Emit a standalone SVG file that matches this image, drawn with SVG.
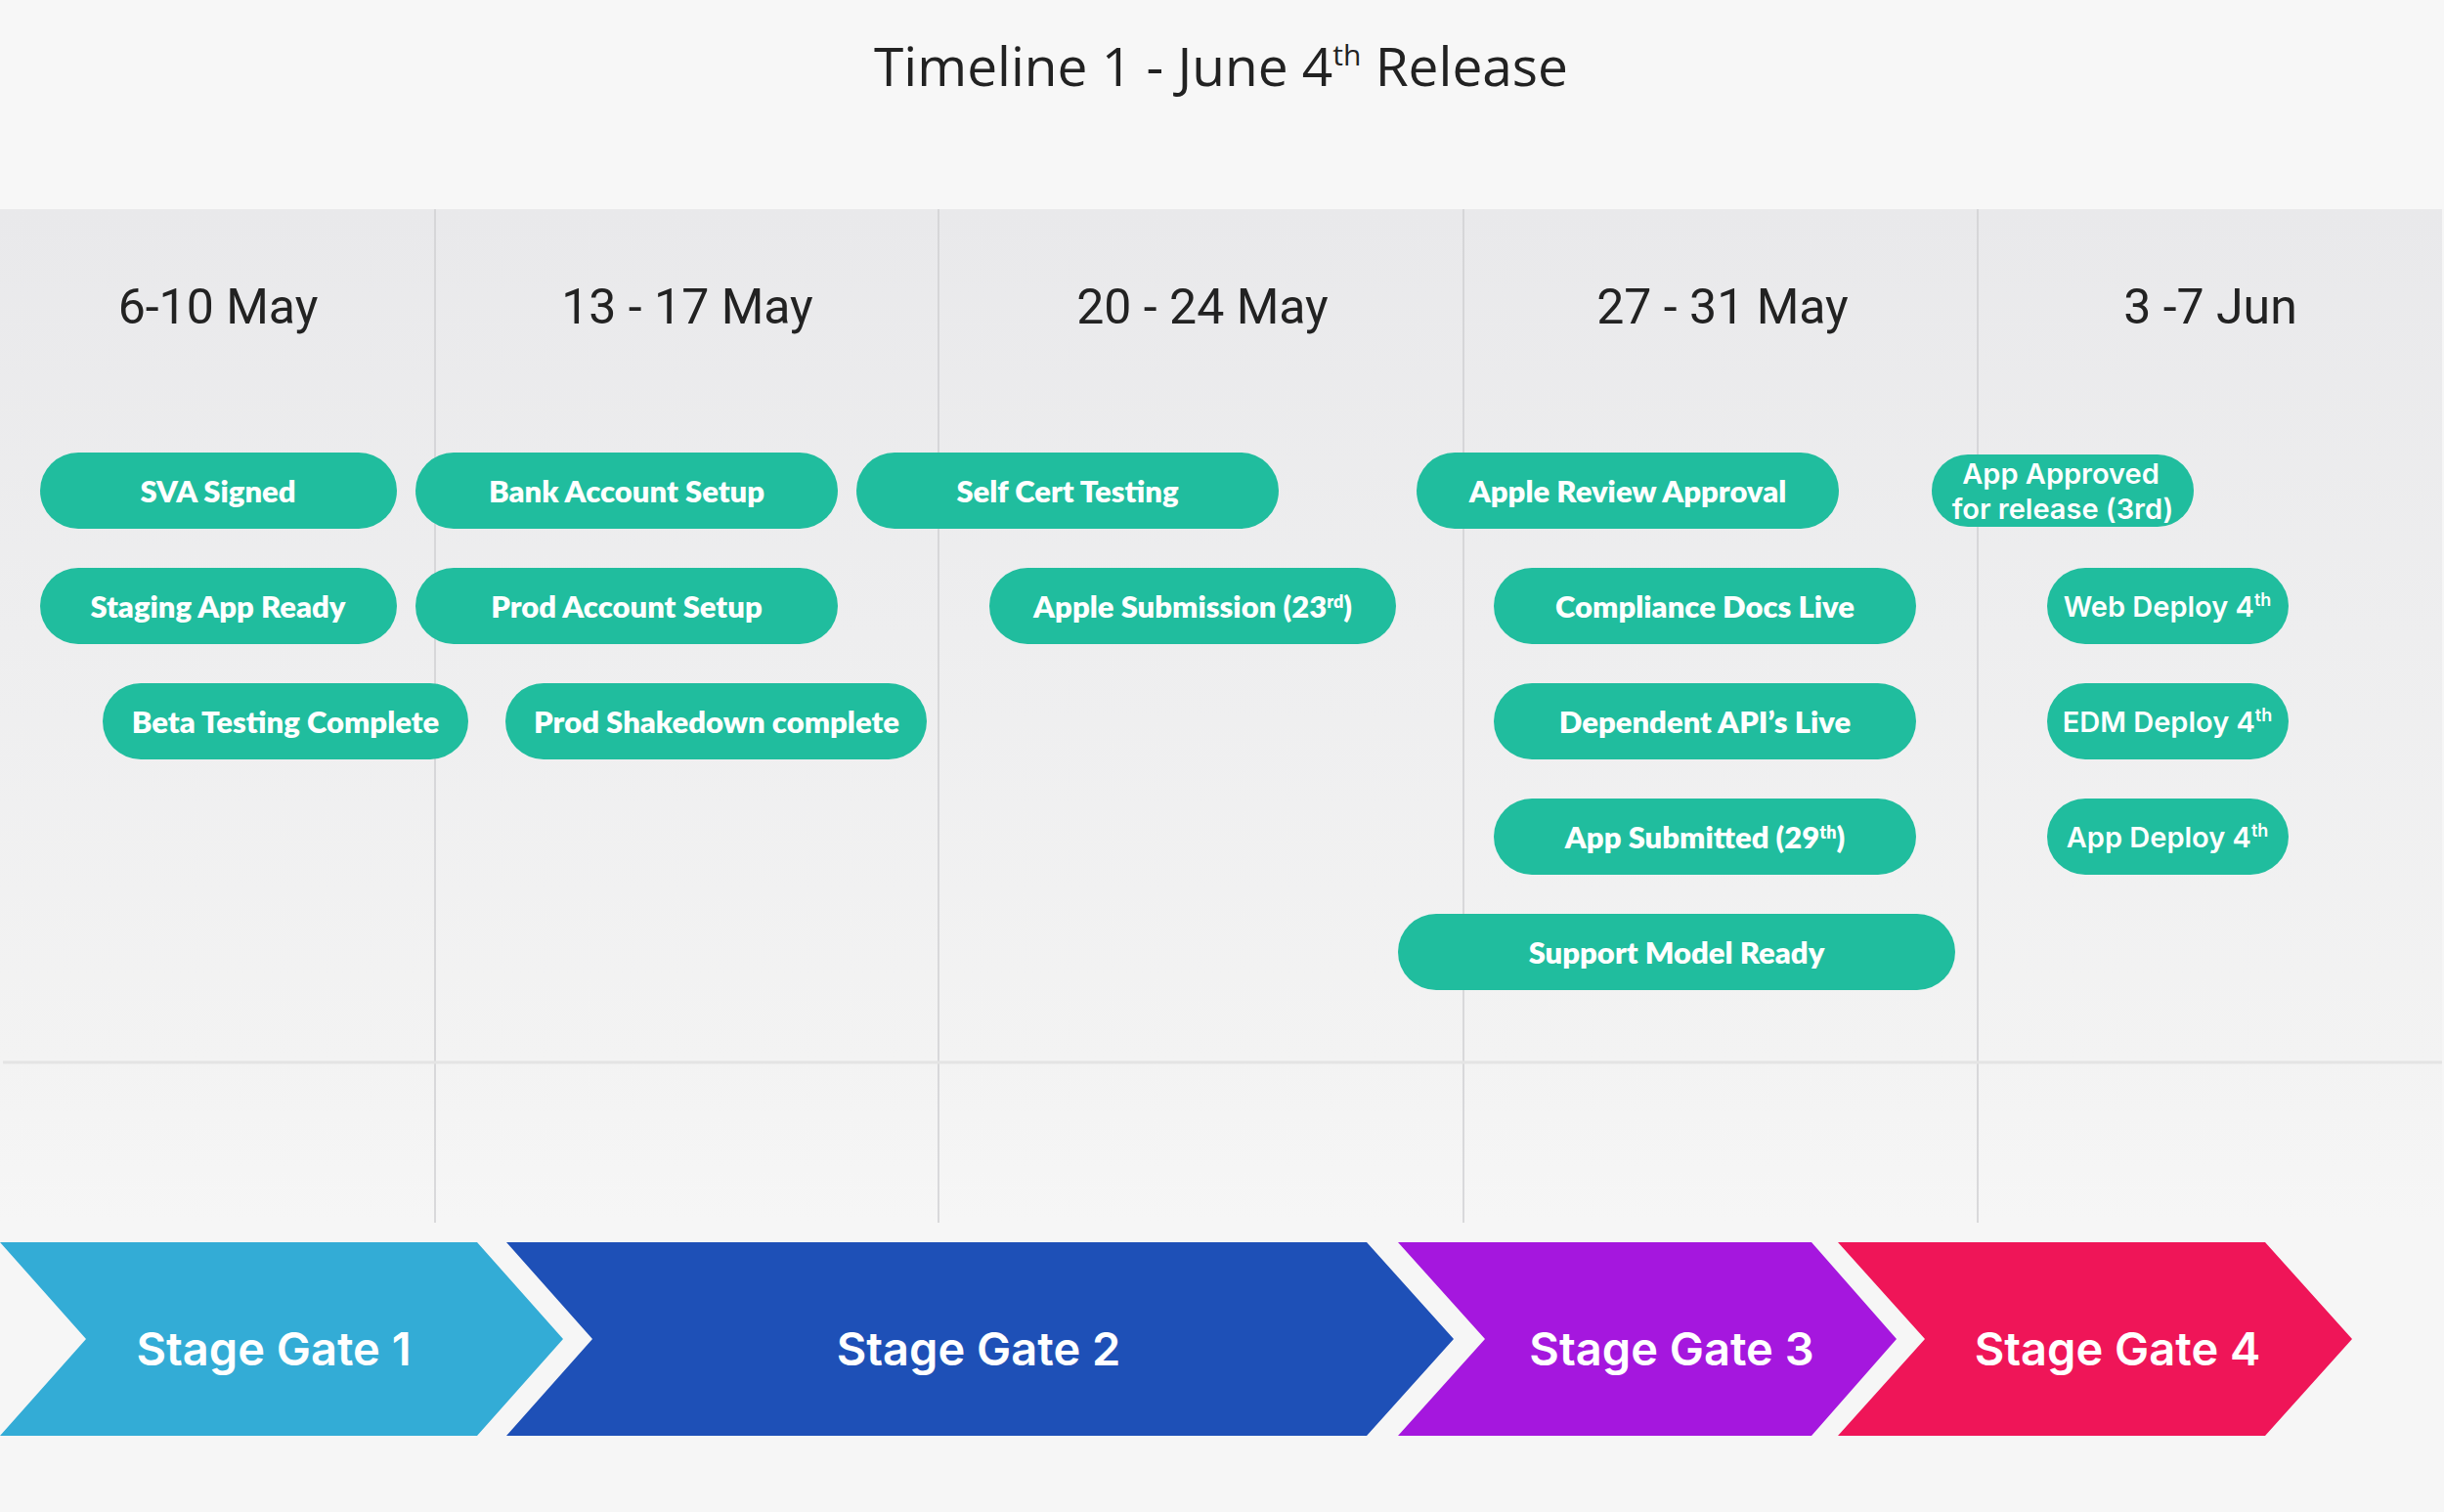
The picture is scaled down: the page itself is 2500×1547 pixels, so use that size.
<svg xmlns="http://www.w3.org/2000/svg" width="2500" height="1547" viewBox="0 0 2500 1547">
  <defs>
    <linearGradient id="gridBg" x1="0" y1="214" x2="0" y2="1251" gradientUnits="userSpaceOnUse">
      <stop offset="0" stop-color="#e9e9eb"/>
      <stop offset="0.84" stop-color="#f3f3f3"/>
      <stop offset="1" stop-color="#f6f6f6"/>
    </linearGradient>
    <style>
      .title { font-family: "Open Sans", "Liberation Sans", sans-serif; font-size: 55px; fill: #222222; }
      .tsup { font-size: 30px; }
      .date { font-family: Roboto, "Liberation Sans", sans-serif; font-size: 50px; fill: #222222; text-anchor: middle; }
      .pill { fill: #20bd9e; }
      .pt { font-family: Lato, "Liberation Sans", sans-serif; font-weight: 800; font-size: 31px; fill: #ffffff; text-anchor: middle; }
      .pt2 { font-family: Inter, "Liberation Sans", sans-serif; font-weight: 600; font-size: 29px; fill: #ffffff; text-anchor: middle; }
      .sup { font-size: 18px; }
      .vline { stroke: #cfcfd2; stroke-width: 1.5; }
      .gate { font-family: Inter, "Liberation Sans", sans-serif; font-weight: 600; font-size: 47px; fill: #ffffff; text-anchor: middle; }
    </style>
  </defs>

  <!-- background -->
  <rect x="0" y="0" width="2500" height="1547" fill="#f6f6f6"/>
  <rect x="0" y="0" width="2500" height="214" fill="#f7f7f7"/>
  <rect x="0" y="214" width="2498" height="1037" fill="url(#gridBg)"/>

  <g id="grid">
    <line class="vline" x1="445" y1="214" x2="445" y2="1251"/>
    <line class="vline" x1="960" y1="214" x2="960" y2="1251"/>
    <line class="vline" x1="1497" y1="214" x2="1497" y2="1251"/>
    <line class="vline" x1="2023" y1="214" x2="2023" y2="1251"/>
    <line x1="3" y1="1087" x2="2498" y2="1087" stroke="#e4e4e4" stroke-width="3"/>
  </g>

  <g id="title">
    <text class="title" x="1249" y="88" text-anchor="middle">Timeline 1 - June 4<tspan class="tsup" dy="-21">th</tspan><tspan dy="21"> Release</tspan></text>
  </g>

  <g id="headers">
    <text class="date" x="223" y="331">6-10 May</text>
    <text class="date" x="703" y="331">13 - 17 May</text>
    <text class="date" x="1230" y="331">20 - 24 May</text>
    <text class="date" x="1762" y="331">27 - 31 May</text>
    <text class="date" x="2261" y="331">3 -7 Jun</text>
  </g>

  <g id="connectors"/>

  <!-- row 1 -->
  <g id="sva-signed">
    <rect class="pill" x="41" y="463" width="365" height="78" rx="39"/>
    <text class="pt" x="223" y="514">SVA Signed</text>
  </g>
  <g id="bank-account-setup">
    <rect class="pill" x="425" y="463" width="432" height="78" rx="39"/>
    <text class="pt" x="641" y="514">Bank Account Setup</text>
  </g>
  <g id="self-cert-testing">
    <rect class="pill" x="876" y="463" width="432" height="78" rx="39"/>
    <text class="pt" x="1092" y="514">Self Cert Testing</text>
  </g>
  <g id="apple-review-approval">
    <rect class="pill" x="1449" y="463" width="432" height="78" rx="39"/>
    <text class="pt" x="1665" y="514">Apple Review Approval</text>
  </g>
  <g id="app-approved">
    <rect class="pill" x="1976" y="465" width="268" height="74" rx="37"/>
    <text class="pt2" x="2108" y="495" font-size="28">App Approved</text>
    <text class="pt2" x="2110" y="531" font-size="28">for release (3rd)</text>
  </g>

  <!-- row 2 -->
  <g id="staging-app-ready">
    <rect class="pill" x="41" y="581" width="365" height="78" rx="39"/>
    <text class="pt" x="223" y="632">Staging App Ready</text>
  </g>
  <g id="prod-account-setup">
    <rect class="pill" x="425" y="581" width="432" height="78" rx="39"/>
    <text class="pt" x="641" y="632">Prod Account Setup</text>
  </g>
  <g id="apple-submission">
    <rect class="pill" x="1012" y="581" width="416" height="78" rx="39"/>
    <text class="pt" x="1220" y="632">Apple Submission (23<tspan class="sup" dy="-10">rd</tspan><tspan dy="10">)</tspan></text>
  </g>
  <g id="compliance-docs-live">
    <rect class="pill" x="1528" y="581" width="432" height="78" rx="39"/>
    <text class="pt" x="1744" y="632">Compliance Docs Live</text>
  </g>
  <g id="web-deploy">
    <rect class="pill" x="2094" y="581" width="247" height="78" rx="39"/>
    <text class="pt2" x="2217" y="631">Web Deploy 4<tspan class="sup" dy="-11">th</tspan></text>
  </g>

  <!-- row 3 -->
  <g id="beta-testing-complete">
    <rect class="pill" x="105" y="699" width="374" height="78" rx="39"/>
    <text class="pt" x="292" y="750">Beta Testing Complete</text>
  </g>
  <g id="prod-shakedown-complete">
    <rect class="pill" x="517" y="699" width="431" height="78" rx="39"/>
    <text class="pt" x="733" y="750">Prod Shakedown complete</text>
  </g>
  <g id="dependent-apis-live">
    <rect class="pill" x="1528" y="699" width="432" height="78" rx="39"/>
    <text class="pt" x="1744" y="750">Dependent API’s Live</text>
  </g>
  <g id="edm-deploy">
    <rect class="pill" x="2094" y="699" width="247" height="78" rx="39"/>
    <text class="pt2" x="2217" y="749">EDM Deploy 4<tspan class="sup" dy="-11">th</tspan></text>
  </g>

  <!-- row 4 -->
  <g id="app-submitted">
    <rect class="pill" x="1528" y="817" width="432" height="78" rx="39"/>
    <text class="pt" x="1744" y="868">App Submitted (29<tspan class="sup" dy="-10">th</tspan><tspan dy="10">)</tspan></text>
  </g>
  <g id="app-deploy">
    <rect class="pill" x="2094" y="817" width="247" height="78" rx="39"/>
    <text class="pt2" x="2217" y="867">App Deploy 4<tspan class="sup" dy="-11">th</tspan></text>
  </g>

  <!-- row 5 -->
  <g id="support-model-ready">
    <rect class="pill" x="1430" y="935" width="570" height="78" rx="39"/>
    <text class="pt" x="1715" y="986">Support Model Ready</text>
  </g>

  <!-- stage gates -->
  <g id="stage-gate-1">
    <path d="M0,1271 L488,1271 L576,1370 L488,1469 L0,1469 L88,1370 Z" fill="#33acd6"/>
    <text class="gate" x="280" y="1397">Stage Gate 1</text>
  </g>
  <g id="stage-gate-2">
    <path d="M518,1271 L1398,1271 L1487,1370 L1398,1469 L518,1469 L606,1370 Z" fill="#1e50b7"/>
    <text class="gate" x="1001" y="1397">Stage Gate 2</text>
  </g>
  <g id="stage-gate-3">
    <path d="M1430,1271 L1853,1271 L1940,1370 L1853,1469 L1430,1469 L1519,1370 Z" fill="#a517de"/>
    <text class="gate" x="1710" y="1397">Stage Gate 3</text>
  </g>
  <g id="stage-gate-4">
    <path d="M1880,1271 L2317,1271 L2406,1370 L2317,1469 L1880,1469 L1969,1370 Z" fill="#ef1558"/>
    <text class="gate" x="2166" y="1397">Stage Gate 4</text>
  </g>
</svg>
